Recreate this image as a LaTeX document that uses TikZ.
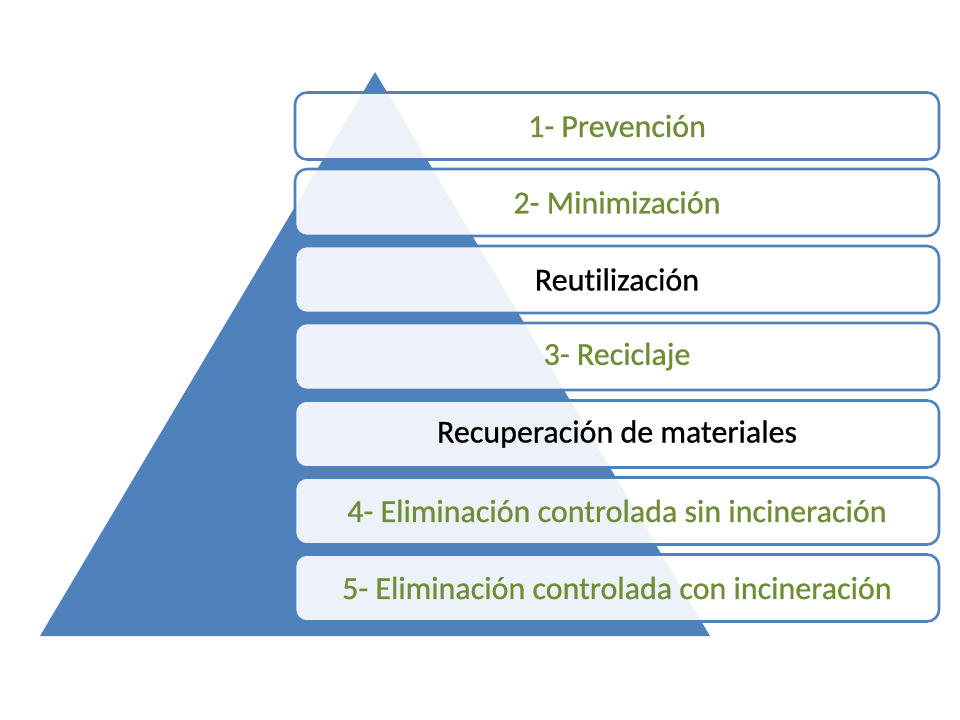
\documentclass[tikz,border=0pt]{standalone}
\usepackage{fontspec}
\setmainfont{Carlito}[UprightFeatures={FakeBold=0.7},Ligatures=NoCommon]
\usepackage{xcolor}
\usepackage{tikz}
\definecolor{pyr}{HTML}{4F81BD}
\definecolor{olive}{HTML}{6F8C36}
\definecolor{ink}{HTML}{000000}

\begin{document}
\begin{tikzpicture}[x=0.75pt,y=-0.75pt,
  every node/.style={font=\fontsize{24}{28}\selectfont},
  level/.style={draw=pyr,line width=1.9pt,rounded corners=9pt,fill=white,fill opacity=0.9,text opacity=1,
    minimum width=483pt,minimum height=50.25pt,inner sep=0pt}]
  \useasboundingbox (0,0) rectangle (960,720);
  \fill[pyr] (375,72) -- (710,636) -- (40,636) -- cycle;
  \node[level,text=olive] (lvla) at (617,126) {1- Prevención};
  \node[level,text=olive] (lvlb) at (617,202.5) {2- Minimización};
  \node[level,text=ink] (lvlc) at (617,279.5) {Reutilización};
  \node[level,text=olive] (lvld) at (617,356.5) {3- Reciclaje};
  \node[level,text=ink] (lvle) at (617,434) {Recuperación de materiales};
  \node[level,text=olive] (lvlf) at (617,511) {4- Eliminación controlada sin incineración};
  \node[level,text=olive] (lvlg) at (617,588) {5- Eliminación controlada con incineración};
\end{tikzpicture}
\end{document}
